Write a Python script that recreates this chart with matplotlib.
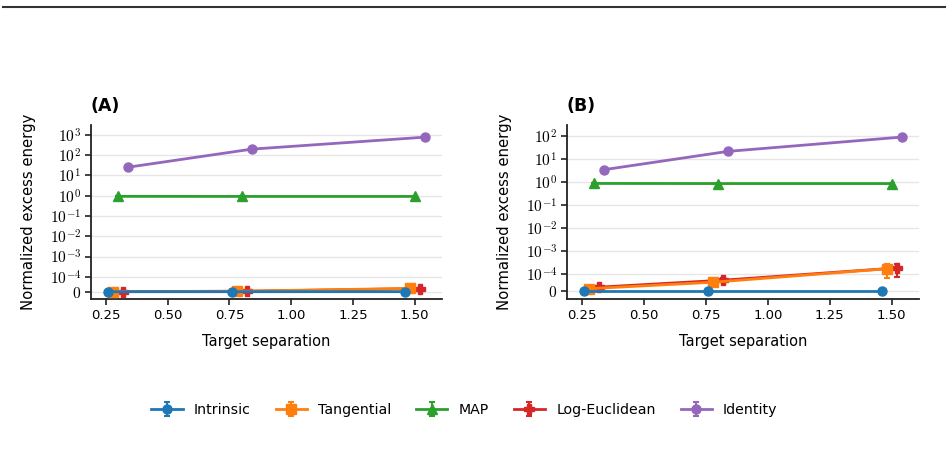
import numpy as np
import matplotlib
matplotlib.use("Agg")
import matplotlib.pyplot as plt
from matplotlib.ticker import FixedLocator, FuncFormatter, NullLocator
from matplotlib.lines import Line2D

plt.rcParams['font.family'] = ['DejaVu Sans']
plt.rcParams['mathtext.fontset'] = 'cm'

# ---- data ----
separations = [0.3, 0.8, 1.5]
methods = ["Intrinsic", "Tangential", "MAP", "Log-Euclidean", "Identity"]
offsets = [-0.04, -0.02, 0.0, 0.02, 0.04]
colors = ["#1f77b4", "#ff7f0e", "#2ca02c", "#d62728", "#9467bd"]
markers = ["o", "s", "^", "P", "o"]

# Panel A values
a_intrinsic = [1e-7, 2e-7, 3e-7]
a_tangential = [1e-6, 3e-6, 2.2e-5]
a_map = [0.92, 0.91, 0.91]
a_logeuc = [1e-6, 3e-6, 2.1e-5]
a_identity = [25.0, 194.0, 755.0]
a_intrinsic_err = [0, 0, 0]
a_tangential_err = [5e-7, 1e-6, 4e-6]
a_map_err = [0.01, 0.01, 0.01]
a_logeuc_err = [5e-7, 1e-6, 4e-6]
a_identity_err = [2.0, 15.0, 60.0]

# Panel B values
b_intrinsic = [1e-7, 1e-7, 1e-7]
b_tangential = [1.6e-5, 5.4e-5, 1.75e-4]
b_map = [0.86, 0.85, 0.85]
b_logeuc = [2.5e-5, 6.6e-5, 1.9e-4]
b_identity = [3.4, 21.0, 87.0]
b_intrinsic_err = [0, 0, 0]
b_tangential_err = [5e-6, 1e-5, 9.5e-5]
b_map_err = [0.01, 0.01, 0.01]
b_logeuc_err = [5e-6, 1e-5, 1.05e-4]
b_identity_err = [0.3, 2.0, 15.0]

panels = [
    ("(A)", [a_intrinsic, a_tangential, a_map, a_logeuc, a_identity],
     [a_intrinsic_err, a_tangential_err, a_map_err, a_logeuc_err, a_identity_err],
     [0] + [10.0 ** k for k in range(-4, 4)], (-0.49e-4, 3000)),
    ("(B)", [b_intrinsic, b_tangential, b_map, b_logeuc, b_identity],
     [b_intrinsic_err, b_tangential_err, b_map_err, b_logeuc_err, b_identity_err],
     [0] + [10.0 ** k for k in range(-4, 3)], (-0.45e-4, 290)),
]

fig = plt.figure(figsize=(9.48, 4.59), dpi=100)
W, H = 948, 459
axes_px = [(91, 125, 442, 299), (567, 125, 919, 299)]

def fmt(v, pos):
    if v == 0:
        return r"$0$"
    return r"$10^{%d}$" % int(round(np.log10(v)))

zorders = [7, 6, 4, 5, 3]
for (title, vals, errs, yt, ylim), (x0, y0, x1, y1) in zip(panels, axes_px):
    ax = fig.add_axes([x0 / W, 1 - y1 / H, (x1 - x0) / W, (y1 - y0) / H])
    ax.set_yscale('symlog', linthresh=1e-4, linscale=0.66)
    for i, m in enumerate(methods):
        xs = [s + offsets[i] for s in separations]
        ax.errorbar(xs, vals[i], yerr=errs[i], color=colors[i], marker=markers[i],
                    ms=6.5 if markers[i] != "P" else 7, lw=2, capsize=2.5, capthick=1.5,
                    elinewidth=1.5, label=m, zorder=zorders[i])
    ax.set_ylim(*ylim)
    ax.set_xlim(0.19, 1.61)
    ax.yaxis.set_major_locator(FixedLocator(yt))
    ax.yaxis.set_major_formatter(FuncFormatter(fmt))
    ax.yaxis.set_minor_locator(NullLocator())
    ax.set_xticks([0.25, 0.5, 0.75, 1.0, 1.25, 1.5])
    ax.set_xticklabels(["0.25", "0.50", "0.75", "1.00", "1.25", "1.50"])
    ax.grid(axis='y', color='#e6e6e6', lw=1)
    ax.set_axisbelow(True)
    for s in ['top', 'right']:
        ax.spines[s].set_visible(False)
    for s in ['left', 'bottom']:
        ax.spines[s].set_linewidth(1.3)
        ax.spines[s].set_color('#222222')
    ax.tick_params(axis='both', length=4, width=1.2, color='#222222', labelsize=9.5)
    ax.tick_params(axis='y', labelsize=11.2, pad=3)
    ax.set_xlabel("Target separation", fontsize=10.5, labelpad=8)
    ax.set_ylabel("Normalized excess energy", fontsize=10.7, labelpad=10)
    ax.set_title(title, loc='left', fontweight='bold', fontsize=12.5, x=0.0, y=1.035)

handles, labels = ax.get_legend_handles_labels()
fig.legend(handles, labels, loc='center', bbox_to_anchor=(0.49, 1 - 410 / H), ncol=5,
           frameon=False, fontsize=10.2, handlelength=2.2, columnspacing=1.75)

fig.add_artist(Line2D([3 / W, 945 / W], [1 - 6.5 / H, 1 - 6.5 / H], color='#333333', lw=1.5))

fig.savefig("out.png", dpi=100)
